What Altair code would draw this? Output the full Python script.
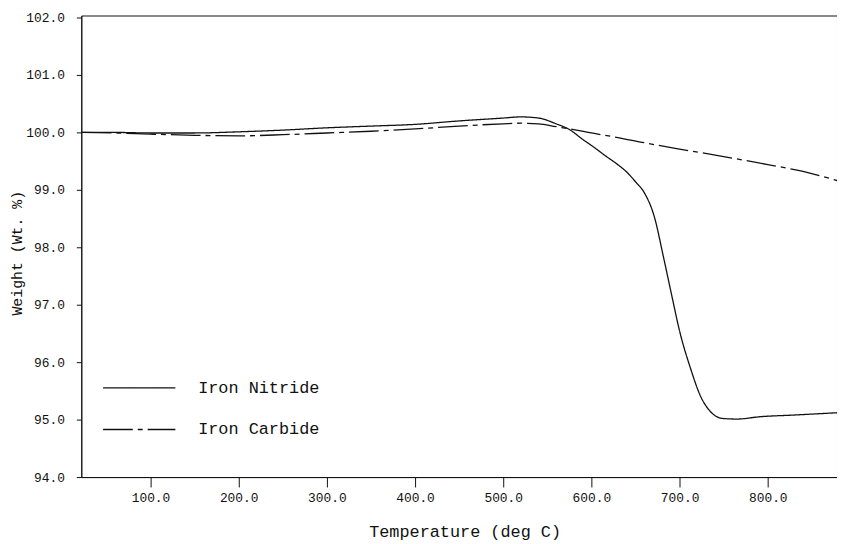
import altair as alt
import pandas as pd

series_names = ["Iron Nitride", "Iron Carbide"]

nitride_temp = [22, 60, 100, 150, 200, 250, 300, 350, 400, 450, 500, 520, 540, 560, 575, 590,
                603, 617, 629, 640, 650, 660, 671, 682, 690, 701, 712, 724, 735, 749, 765, 791, 830, 879]
nitride_wt = [100.0, 100.0, 99.99, 99.99, 100.01, 100.04, 100.08, 100.11, 100.14, 100.2, 100.25, 100.27,
              100.25, 100.15, 100.05, 99.88, 99.74, 99.58, 99.45, 99.31, 99.14, 98.95, 98.55, 97.81, 97.24,
              96.48, 95.91, 95.4, 95.14, 95.02, 95.01, 95.05, 95.08, 95.12]

carbide_temp = [22, 60, 100, 150, 200, 250, 300, 350, 400, 450, 500, 520, 540, 560, 580, 600, 630,
                660, 700, 750, 800, 840, 879]
carbide_wt = [100.0, 99.99, 99.97, 99.95, 99.94, 99.96, 99.99, 100.02, 100.06, 100.11, 100.15, 100.16,
              100.15, 100.1, 100.05, 99.99, 99.91, 99.82, 99.71, 99.58, 99.44, 99.32, 99.16]

x_ticks = [100, 200, 300, 400, 500, 600, 700, 800]
y_ticks = [94, 95, 96, 97, 98, 99, 100, 101, 102]

df = pd.concat([
    pd.DataFrame({"temp": nitride_temp, "wt": nitride_wt, "series": series_names[0]}),
    pd.DataFrame({"temp": carbide_temp, "wt": carbide_wt, "series": series_names[1]}),
])

FONT = "Liberation Mono"
INK = "#111111"

chart = alt.Chart(df).mark_line(
    interpolate="monotone", strokeWidth=1.3, color=INK, clip=True
).encode(
    x=alt.X("temp:Q",
            scale=alt.Scale(domain=[21.5, 878.5], nice=False, zero=False),
            axis=alt.Axis(values=x_ticks, format=".1f", title="Temperature (deg C)",
                          grid=False, domainColor=INK, tickColor=INK, tickSize=10,
                          labelPadding=5, labelFont=FONT, labelFontSize=13, labelColor=INK,
                          titleFont=FONT, titleFontSize=17, titleFontWeight="normal",
                          titleColor=INK, titleX=387, titleY=60, titleBaseline="alphabetic",
                          titleAlign="center")),
    y=alt.Y("wt:Q",
            scale=alt.Scale(domain=[94, 102.035], nice=False, zero=False),
            axis=alt.Axis(values=y_ticks, format=".1f", title="Weight (Wt. %)",
                          grid=False, domainColor=INK, tickColor=INK, tickSize=5,
                          labelPadding=12, labelFont=FONT, labelFontSize=13, labelColor=INK,
                          titleFont=FONT, titleFontSize=15, titleFontWeight="normal",
                          titleColor=INK, titleX=-60, titleY=239.5, titleAngle=270,
                          titleBaseline="alphabetic", titleAlign="center")),
    strokeDash=alt.StrokeDash(
        "series:N",
        scale=alt.Scale(domain=series_names, range=[[1, 0], [30, 5, 5, 5]]),
        legend=alt.Legend(orient="none", legendX=21, legendY=366, title=None,
                          symbolType="stroke", symbolSize=5329, symbolStrokeWidth=1.3,
                          symbolStrokeColor=INK, labelFont=FONT, labelFontSize=17,
                          labelColor=INK, labelOffset=22, clipHeight=20, rowPadding=22,
                          padding=0, direction="vertical")),
).properties(
    width=763, height=466,
    background="white",
    autosize=alt.AutoSizeParams(type="none"),
    padding={"left": 74, "top": 5, "right": 0, "bottom": 65},
).configure_view(
    stroke=INK, strokeWidth=1
)

chart.save("out.html", embed_options={"renderer": "svg", "actions": False})
